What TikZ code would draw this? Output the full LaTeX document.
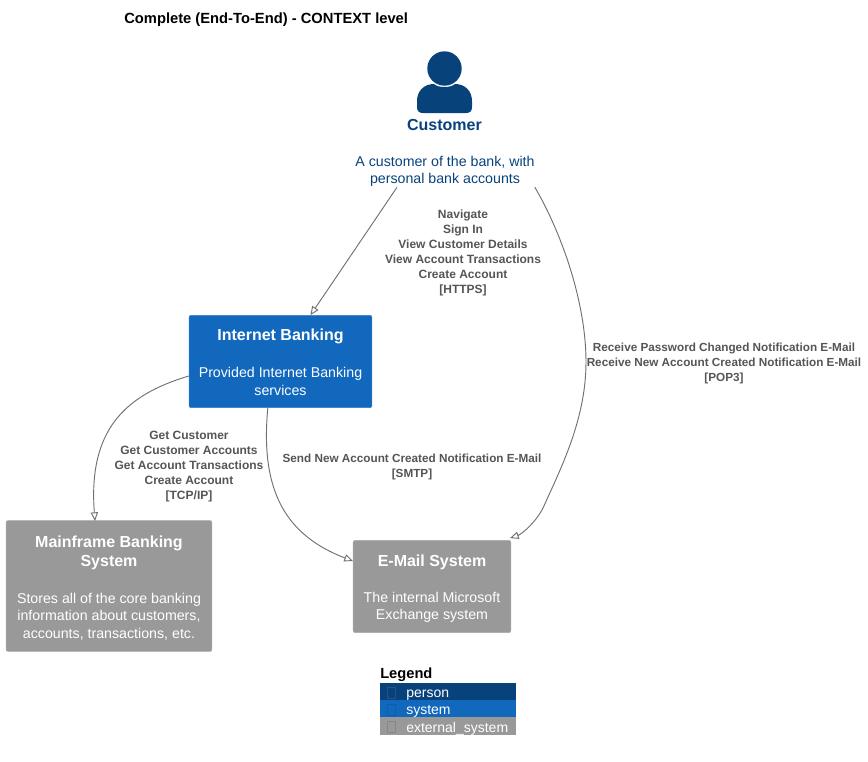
\documentclass[tikz,border=0pt]{standalone}
\usepackage{fontspec}
\setmainfont{Liberation Sans}
\usetikzlibrary{arrows.meta}
\definecolor{personblue}{HTML}{08427B}
\definecolor{systemblue}{HTML}{1168BD}
\definecolor{extgray}{HTML}{999999}
\definecolor{linegray}{HTML}{707070}
\definecolor{labelgray}{HTML}{555555}
\newcommand{\boxtitle}[2][0pt]{{\fontsize{12}{15}\selectfont\bfseries\rule{0pt}{#1}#2}}
\tikzset{
  sysbox/.style={rectangle,rounded corners=1.5pt,draw=#1!85!white,fill=#1,text=white,align=center,
    inner sep=0pt,font=\fontsize{10.65}{13.2}\selectfont},
  rellabel/.style={text=labelgray,align=center,inner sep=0pt,font=\fontsize{9}{11.25}\selectfont\bfseries},
  longlabel/.style={rellabel,font=\fontsize{8.8}{11.25}\selectfont\bfseries},
  rel/.style={draw=linegray,line width=0.7pt,-{Triangle[open,length=6.5pt,width=5.5pt]}},
  legendrow/.style={rectangle,fill=#1,minimum width=102pt,minimum height=13.1pt,inner sep=0pt},
  legendtext/.style={text=white,inner sep=0pt,anchor=west,font=\fontsize{10.5}{13}\selectfont},
  legendmark/.style={rectangle,draw=#1,minimum width=6pt,minimum height=8.25pt,inner sep=0pt,line width=0.4pt}
}
\begin{document}
\begin{tikzpicture}[x=0.75pt,y=-0.75pt]
\useasboundingbox (0,0) rectangle (868,761);
\node at (124,20)[anchor=west,inner sep=0pt,font=\fontsize{11.05}{13}\selectfont\bfseries] (title) {Complete (End-To-End) - CONTEXT level};
% person
\fill[personblue] (444.5,68.5) circle (17.2);
\fill[personblue] (423,113) .. controls (419,113) and (417,111) .. (417,107) -- (417,101) .. controls (417,91) and (424,84) .. (434,84)
  .. controls (438,88) and (451,88) .. (455,84) .. controls (465,84) and (472,91) .. (472,101) -- (472,107) .. controls (472,111) and (470,113) .. (466,113) -- cycle;
\node at (444.5,124.5)[text=personblue,inner sep=0pt,font=\fontsize{12}{15}\selectfont\bfseries] (customer) {Customer};
\node at (445,171)[text=personblue,align=center,inner sep=0pt,minimum width=178pt*0.75,minimum height=32pt*0.75,font=\fontsize{10.65}{12.75}\selectfont] (customerdesc) {A customer of the bank, with\\personal bank accounts};
% systems
\node at (280.5,361.5)[sysbox=systemblue,minimum width=137.2pt,minimum height=69.2pt] (internet) {\boxtitle[10pt]{Internet Banking}\\[14.5pt]Provided Internet Banking\\services};
\node at (109,586)[sysbox=extgray,minimum width=154.2pt,minimum height=98.2pt] (mainframe) {\boxtitle[11.7pt]{Mainframe Banking}\\[1.5pt]\boxtitle{System}\\[14pt]Stores all of the core banking\\information about customers,\\accounts, transactions, etc.};
\node at (432,586.5)[sysbox=extgray,minimum width=118.2pt,minimum height=69.2pt] (email) {\boxtitle[11.9pt]{E-Mail System}\\[14pt]The internal Microsoft\\Exchange system};
% relations
\draw[rel] ([xshift=-36pt]customerdesc.south) -- ([xshift=22.5pt]internet.north);
\draw[rel] (customerdesc.south east) .. controls (560,230) and (586,300) .. (586,362) .. controls (586,420) and (560,470) .. (543,508) .. controls (536,522) and (522,534) .. ([xshift=58.5pt,yshift=1.5pt]email.north);
\draw[rel] (internet.west |- 0,376) .. controls (125,395) and (88,430) .. (95,521);
\draw[rel] ([xshift=-9.5pt]internet.south) .. controls (260,490) and (285,535) .. (email.west |- 0,561);
% labels
\node at (463,252.5)[rellabel] (navlabel) {Navigate\\Sign In\\View Customer Details\\View Account Transactions\\Create Account\\{[HTTPS]}};
\node at (724,363)[longlabel] (pop3label) {Receive Password Changed Notification E-Mail\\Receive New Account Created Notification E-Mail\\{[POP3]}};
\node at (189,467)[rellabel] (tcplabel) {Get Customer\\Get Customer Accounts\\Get Account Transactions\\Create Account\\{[TCP/IP]}};
\node at (412,467)[longlabel] (smtplabel) {Send New Account Created Notification E-Mail\\{[SMTP]}};
% legend
\node at (380,675)[anchor=west,inner sep=0pt,font=\fontsize{11}{13}\selectfont\bfseries] (legend) {Legend};
\node at (448,691.5)[legendrow=personblue] (lperson) {};
\node at (448,708.8)[legendrow=systemblue] (lsystem) {};
\node at (448,726.2)[legendrow=extgray] (lexternal) {};
\node at (391,692.5)[legendmark=personblue!90!white] (mperson) {};
\node at (391,709.5)[legendmark=systemblue!75!personblue] (msystem) {};
\node at (391,727)[legendmark=extgray!88!black] (mexternal) {};
\node at (406,695)[legendtext] (tperson) {person};
\node at (406,711.5)[legendtext] (tsystem) {system};
\node at (406,728.5)[legendtext] (texternal) {external\_system};
\end{tikzpicture}
\end{document}
